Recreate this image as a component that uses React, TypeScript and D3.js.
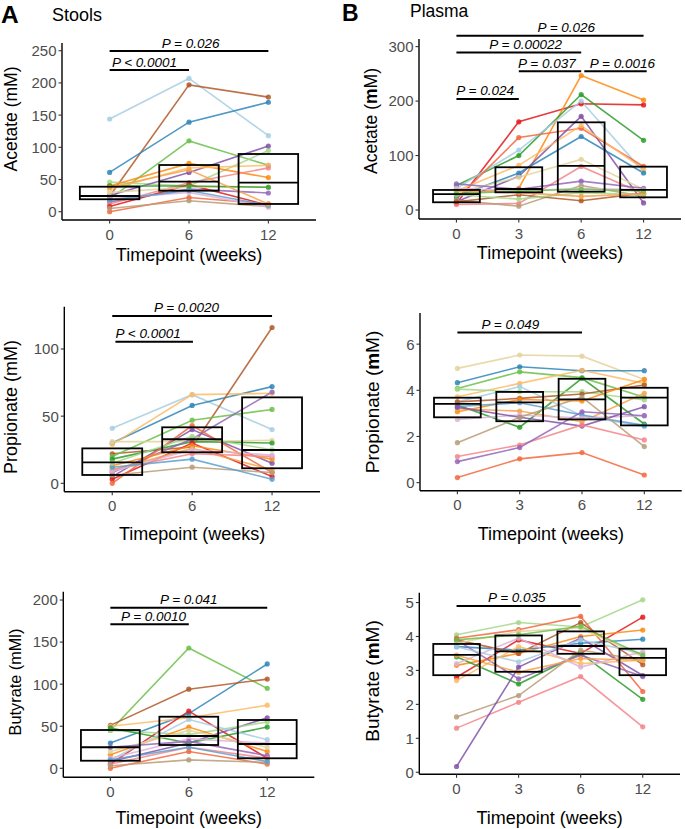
import React from "react";
import * as d3 from "d3";

// ---------- categories ----------
const weeksStool = ["0", "6", "12"];
const weeksPlasma = ["0", "3", "6", "12"];

// ---------- subject colours ----------
const subjectColors: Record<string, string> = {
  P01: "#a6cee3",
  P02: "#2f86b8",
  P03: "#a5d88a",
  P04: "#6cc04a",
  P05: "#2e9c2b",
  P06: "#f4858a",
  P07: "#e31a1c",
  P08: "#f2683f",
  P09: "#fdbb66",
  P10: "#ff8a12",
  P11: "#dcb4d8",
  P12: "#8452a8",
  P13: "#b15928",
  P14: "#b89c78",
  P15: "#e3d49c",
  P16: "#9466b8",
  P17: "#f7a24a",
  P18: "#5aa0cf",
  P19: "#9bd37f",
};

// ---------- subject values ----------
const stoolAcetate: [string, number[]][] = [
  ["P01", [144, 207, 118]],
  ["P13", [24, 197, 178]],
  ["P02", [61, 139, 170]],
  ["P04", [20, 110, 72]],
  ["P03", [46, 40, 95]],
  ["P12", [25, 61, 102]],
  ["P16", [15, 35, 29]],
  ["P10", [40, 75, 53]],
  ["P09", [35, 68, 72]],
  ["P06", [12, 45, 68]],
  ["P07", [8, 42, 10]],
  ["P08", [0, 22, 12]],
  ["P14", [5, 17, 8]],
  ["P15", [30, 38, 38]],
  ["P11", [20, 30, 7]],
  ["P18", [18, 33, 10]],
  ["P05", [40, 40, 38]],
  ["P17", [38, 65, 12]],
];

const plasmaAcetate: [string, number[]][] = [
  ["P07", [12, 162, 195, 193]],
  ["P10", [30, 40, 247, 202]],
  ["P05", [45, 100, 212, 128]],
  ["P01", [40, 110, 200, 70]],
  ["P08", [20, 133, 150, 80]],
  ["P12", [15, 62, 172, 13]],
  ["P09", [35, 82, 155, 75]],
  ["P02", [25, 68, 135, 68]],
  ["P15", [32, 60, 93, 38]],
  ["P06", [10, 12, 80, 30]],
  ["P16", [48, 38, 53, 40]],
  ["P14", [18, 7, 45, 25]],
  ["P13", [15, 28, 17, 31]],
  ["P03", [28, 20, 32, 28]],
  ["P17", [35, 32, 25, 30]],
  ["P11", [40, 35, 40, 37]],
  ["P04", [30, 35, 38, 35]],
];

const stoolPropionate: [string, number[]][] = [
  ["P01", [41, 66, 40]],
  ["P02", [30, 58, 72]],
  ["P09", [29, 66, 67]],
  ["P13", [22, 27, 116]],
  ["P04", [20, 47, 55]],
  ["P15", [31, 31, 32]],
  ["P05", [18, 31, 30]],
  ["P12", [5, 40, 15]],
  ["P16", [8, 33, 68]],
  ["P07", [3, 30, 5]],
  ["P08", [0, 43, 8]],
  ["P10", [13, 28, 18]],
  ["P17", [10, 26, 10]],
  ["P06", [10, 22, 20]],
  ["P11", [9, 25, 21]],
  ["P14", [6, 12, 8]],
  ["P18", [12, 18, 3]],
  ["P03", [15, 35, 25]],
];

const plasmaPropionate: [string, number[]][] = [
  ["P15", [4.95, 5.53, 5.48, 4.47]],
  ["P02", [4.33, 5.02, 4.85, 4.85]],
  ["P04", [4.08, 4.8, 4.55, 3.7]],
  ["P09", [3.72, 4.3, 4.87, 4.3]],
  ["P05", [3.36, 2.4, 4.52, 2.54]],
  ["P03", [4.05, 3.94, 3.94, 3.58]],
  ["P01", [3.5, 4.16, 2.9, 2.42]],
  ["P13", [3.5, 3.65, 3.84, 4.23]],
  ["P10", [3.07, 3.6, 3.54, 4.47]],
  ["P17", [3.2, 3.1, 2.64, 3.87]],
  ["P18", [3.3, 3.46, 2.93, 2.48]],
  ["P11", [2.74, 2.93, 2.8, 2.9]],
  ["P12", [3.27, 2.83, 2.45, 3.29]],
  ["P14", [1.73, 2.83, 3.7, 1.56]],
  ["P06", [1.13, 1.63, 2.5, 1.85]],
  ["P16", [0.91, 1.52, 3.07, 2.9]],
  ["P08", [0.22, 1.03, 1.3, 0.33]],
];

const stoolButyrate: [string, number[]][] = [
  ["P04", [45, 143, 95]],
  ["P02", [30, 65, 124]],
  ["P13", [51, 94, 106]],
  ["P09", [50, 60, 75]],
  ["P07", [5, 68, 12]],
  ["P12", [8, 30, 60]],
  ["P03", [45, 40, 55]],
  ["P05", [48, 30, 49]],
  ["P10", [16, 49, 20]],
  ["P01", [10, 58, 34]],
  ["P15", [20, 45, 25]],
  ["P11", [12, 35, 30]],
  ["P16", [25, 32, 15]],
  ["P06", [5, 25, 12]],
  ["P08", [0, 20, 5]],
  ["P14", [3, 10, 7]],
  ["P18", [10, 25, 8]],
];

const plasmaButyrate: [string, number[]][] = [
  ["P03", [4.05, 4.41, 4.28, 5.08]],
  ["P07", [2.8, 3.9, 3.5, 4.57]],
  ["P08", [3.95, 4.2, 4.59, 2.38]],
  ["P10", [3.15, 3.5, 4.0, 4.19]],
  ["P02", [3.7, 3.6, 3.8, 3.92]],
  ["P05", [3.4, 2.6, 3.5, 2.15]],
  ["P06", [1.3, 2.06, 2.82, 1.34]],
  ["P14", [1.63, 2.26, 3.6, 3.3]],
  ["P12", [0.17, 3.1, 3.95, 2.85]],
  ["P16", [3.9, 2.75, 3.45, 2.82]],
  ["P13", [3.9, 3.5, 4.41, 3.17]],
  ["P15", [3.8, 4.15, 4.25, 3.4]],
  ["P09", [2.7, 3.7, 3.2, 3.3]],
  ["P01", [3.7, 3.25, 3.9, 3.5]],
  ["P11", [3.2, 3.95, 3.1, 3.55]],
  ["P04", [3.9, 4.05, 4.3, 3.45]],
  ["P17", [3.45, 2.95, 3.35, 3.3]],
];

// ---------- boxes: [q1, median, q3] ----------
const stoolAcetateBox = [[19.3, 24.4, 38.8], [32.6, 46.6, 72.5], [12, 45, 89.6]];
const plasmaAcetateBox = [[14.2, 29, 36.8], [32.5, 38.6, 78.5], [33.7, 81, 161], [23.3, 36.8, 79.6]];
const stoolPropionateBox = [[6.2, 15.6, 26], [23.1, 32.8, 41.7], [11.2, 24.8, 64]];
const plasmaPropionateBox = [[2.83, 3.41, 3.68], [2.66, 3.48, 3.93], [2.74, 3.61, 4.5], [2.48, 3.68, 4.11]];
const stoolButyrateBox = [[9, 25, 45.5], [27.7, 38.4, 61.3], [11.9, 28.9, 57.4]];
const plasmaButyrateBox = [[2.86, 3.46, 3.78], [2.96, 3.56, 4.03], [3.49, 3.72, 4.15], [2.86, 3.37, 3.64]];

// ---------- significance: from/to category index, y value, label, text centre index ----------
type Sig = { from: number; to: number; y: number; label: string; tx: number };
const stoolAcetateSig: Sig[] = [
  { from: 0, to: 2, y: 249.5, label: "P = 0.026", tx: 1.02 },
  { from: 0, to: 1, y: 220, label: "P < 0.0001", tx: 0.44 },
];
const plasmaAcetateSig: Sig[] = [
  { from: 0, to: 3, y: 320, label: "P = 0.026", tx: 1.76 },
  { from: 0, to: 2, y: 289, label: "P = 0.00022", tx: 1.11 },
  { from: 1, to: 2, y: 255, label: "P = 0.037", tx: 1.45 },
  { from: 2.05, to: 3.05, y: 255, label: "P = 0.0016", tx: 2.66 },
  { from: 0, to: 1, y: 204, label: "P = 0.024", tx: 0.46 },
];
const stoolPropionateSig: Sig[] = [
  { from: 0, to: 2, y: 124.6, label: "P = 0.0020", tx: 0.93 },
  { from: 0.04, to: 1.01, y: 105.4, label: "P < 0.0001", tx: 0.45 },
];
const plasmaPropionateSig: Sig[] = [{ from: 0, to: 2, y: 6.51, label: "P = 0.049", tx: 0.85 }];
const stoolButyrateSig: Sig[] = [
  { from: 0, to: 2, y: 190.8, label: "P = 0.041", tx: 1.0 },
  { from: 0, to: 1, y: 171.1, label: "P = 0.0010", tx: 0.55 },
];
const plasmaButyrateSig: Sig[] = [{ from: 0, to: 2, y: 4.9, label: "P = 0.035", tx: 0.97 }];

// ---------- tick labels ----------
const ticksStoolAcetate = [0, 50, 100, 150, 200, 250];
const ticksPlasmaAcetate = [0, 100, 200, 300];
const ticksStoolPropionate = [0, 50, 100];
const ticksPlasmaPropionate = [0, 2, 4, 6];
const ticksStoolButyrate = [0, 50, 100, 150, 200];
const ticksPlasmaButyrate = [0, 1, 2, 3, 4, 5];

const FONT = "'Liberation Sans', Arial, Helvetica, sans-serif";

type PanelCfg = {
  weeks: string[];
  series: [string, number[]][];
  boxes: number[][];
  sigs: Sig[];
  ticks: number[];
  yDomain: [number, number];
  frame: { left: number; right: number; top: number; bottom: number };
  ylabel: string;
  boldM: boolean;
  ylabelPos: [number, number];
  ylabelSize: number;
  xlabelY: number;
};

const panels: PanelCfg[] = [
  {
    weeks: weeksStool, series: stoolAcetate, boxes: stoolAcetateBox, sigs: stoolAcetateSig,
    ticks: ticksStoolAcetate, yDomain: [-12.9, 262],
    frame: { left: 62, right: 316, top: 43, bottom: 220 },
    ylabel: "Acetate (mM)", boldM: false, ylabelPos: [11, 119], ylabelSize: 17.5, xlabelY: 261,
  },
  {
    weeks: weeksPlasma, series: plasmaAcetate, boxes: plasmaAcetateBox, sigs: plasmaAcetateSig,
    ticks: ticksPlasmaAcetate, yDomain: [-16.5, 314],
    frame: { left: 419, right: 681, top: 39, bottom: 219 },
    ylabel: "Acetate (mM)", boldM: true, ylabelPos: [371, 121], ylabelSize: 17.5, xlabelY: 259,
  },
  {
    weeks: weeksStool, series: stoolPropionate, boxes: stoolPropionateBox, sigs: stoolPropionateSig,
    ticks: ticksStoolPropionate, yDomain: [-6.25, 131.5],
    frame: { left: 64.3, right: 320, top: 306.7, bottom: 491.7 },
    ylabel: "Propionate (mM)", boldM: false, ylabelPos: [11, 407], ylabelSize: 18, xlabelY: 540,
  },
  {
    weeks: weeksPlasma, series: plasmaPropionate, boxes: plasmaPropionateBox, sigs: plasmaPropionateSig,
    ticks: ticksPlasmaPropionate, yDomain: [-0.35, 7.35],
    frame: { left: 420, right: 681.7, top: 313, bottom: 490.7 },
    ylabel: "Propionate (mM)", boldM: true, ylabelPos: [372, 402], ylabelSize: 19, xlabelY: 540,
  },
  {
    weeks: weeksStool, series: stoolButyrate, boxes: stoolButyrateBox, sigs: stoolButyrateSig,
    ticks: ticksStoolButyrate, yDomain: [-10.7, 209.9],
    frame: { left: 63.3, right: 314.3, top: 591.7, bottom: 777.3 },
    ylabel: "Butyrate (mMl)", boldM: false, ylabelPos: [15, 682], ylabelSize: 16.3, xlabelY: 824,
  },
  {
    weeks: weeksPlasma, series: plasmaButyrate, boxes: plasmaButyrateBox, sigs: plasmaButyrateSig,
    ticks: ticksPlasmaButyrate, yDomain: [-0.06, 5.29],
    frame: { left: 419.3, right: 680, top: 592.7, bottom: 774.3 },
    ylabel: "Butyrate (mM)", boldM: true, ylabelPos: [372, 681], ylabelSize: 19, xlabelY: 824,
  },
];

function YLabel({ cfg }: { cfg: PanelCfg }) {
  const [cx, cy] = cfg.ylabelPos;
  const open = cfg.ylabel.indexOf("(");
  const before = cfg.ylabel.slice(0, open + 1);
  const rest = cfg.ylabel.slice(open + 1);
  return (
    <text
      transform={`translate(${cx},${cy}) rotate(-90)`}
      textAnchor="middle"
      dy="0.35em"
      fontSize={cfg.ylabelSize}
      fill="#000"
    >
      {cfg.boldM ? (
        <>
          <tspan>{before}</tspan>
          <tspan fontWeight="bold">{rest.slice(0, 1)}</tspan>
          <tspan>{rest.slice(1)}</tspan>
        </>
      ) : (
        cfg.ylabel
      )}
    </text>
  );
}

function Panel({ cfg }: { cfg: PanelCfg }) {
  const { left, right, top, bottom } = cfg.frame;
  const n = cfg.weeks.length;
  const x = d3.scaleLinear().domain([0.4, n + 0.6]).range([left, right]);
  const y = d3.scaleLinear().domain(cfg.yDomain).range([bottom, top]);
  const step = x(2) - x(1);
  const halfBox = step * 0.375;
  const line = d3
    .line<number>()
    .x((_, i) => x(i + 1))
    .y((d) => y(d));

  return (
    <g>
      {cfg.series.map(([id, vals]) => (
        <path
          key={"l" + id}
          d={line(vals) || ""}
          fill="none"
          stroke={subjectColors[id]}
          strokeWidth={1.6}
          strokeOpacity={0.85}
        />
      ))}
      {cfg.series.map(([id, vals]) =>
        vals.map((v, i) => (
          <circle
            key={"p" + id + i}
            cx={x(i + 1)}
            cy={y(v)}
            r={2.6}
            fill={subjectColors[id]}
            fillOpacity={0.85}
          />
        ))
      )}
      {cfg.boxes.map((b, i) => (
        <g key={"b" + i}>
          <rect
            x={x(i + 1) - halfBox}
            y={y(b[2])}
            width={halfBox * 2}
            height={y(b[0]) - y(b[2])}
            fill="none"
            stroke="#000"
            strokeWidth={1.8}
          />
          <line
            x1={x(i + 1) - halfBox}
            x2={x(i + 1) + halfBox}
            y1={y(b[1])}
            y2={y(b[1])}
            stroke="#000"
            strokeWidth={1.8}
          />
        </g>
      ))}
      <line x1={left} x2={left} y1={top} y2={bottom} stroke="#000" strokeWidth={1.4} />
      <line x1={left} x2={right} y1={bottom} y2={bottom} stroke="#000" strokeWidth={1.4} />
      {cfg.ticks.map((t) => (
        <g key={"yt" + t}>
          <line x1={left - 3.5} x2={left} y1={y(t)} y2={y(t)} stroke="#333" strokeWidth={1.1} />
          <text
            x={left - 5.5}
            y={y(t)}
            dy="0.36em"
            textAnchor="end"
            fontSize={15}
            fill="#4d4d4d"
          >
            {t}
          </text>
        </g>
      ))}
      {cfg.weeks.map((w, i) => (
        <g key={"xt" + w}>
          <line x1={x(i + 1)} x2={x(i + 1)} y1={bottom} y2={bottom + 3.5} stroke="#333" strokeWidth={1.1} />
          <text x={x(i + 1)} y={bottom + 19.5} textAnchor="middle" fontSize={15} fill="#4d4d4d">
            {w}
          </text>
        </g>
      ))}
      {cfg.sigs.map((s, i) => (
        <g key={"s" + i}>
          <line
            x1={x(s.from + 1)}
            x2={x(s.to + 1)}
            y1={y(s.y)}
            y2={y(s.y)}
            stroke="#000"
            strokeWidth={2}
          />
          <text
            x={x(s.tx + 1)}
            y={y(s.y) - 3.5}
            textAnchor="middle"
            fontSize={13.5}
            fontStyle="italic"
            fill="#000"
          >
            {s.label}
          </text>
        </g>
      ))}
      <text
        x={(left + right) / 2}
        y={cfg.xlabelY}
        textAnchor="middle"
        fontSize={18}
        fill="#000"
      >
        Timepoint (weeks)
      </text>
      <YLabel cfg={cfg} />
    </g>
  );
}

export default function App() {
  return (
    <svg
      width={685}
      height={829}
      style={{ position: "absolute", left: 0, top: 0, background: "#fff" }}
      fontFamily={FONT}
    >
      <rect width={685} height={829} fill="#fff" />
      <text x={1} y={22.5} fontSize={24.5} fontWeight="bold">A</text>
      <text x={52} y={20.5} fontSize={18}>Stools</text>
      <text x={342} y={21} fontSize={23} fontWeight="bold">B</text>
      <text x={410} y={17} fontSize={17.5}>Plasma</text>
      {panels.map((p, i) => (
        <Panel key={i} cfg={p} />
      ))}
    </svg>
  );
}
